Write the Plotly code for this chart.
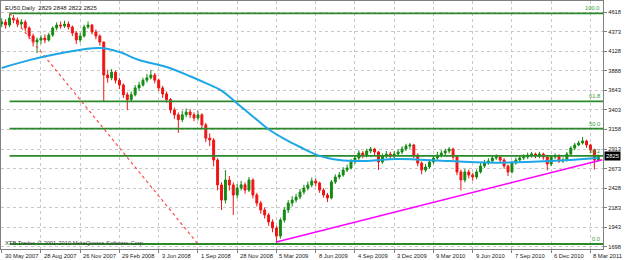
import plotly.graph_objects as go

# ---------------- data ----------------
title_text = "EU50,Daily  2829 2848 2822 2825"
copyright_text = "XTB Trader, \u00a9 2001-2010 MetaQuotes Software Corp."

date_labels = ["30 May 2007", "28 Aug 2007", "26 Nov 2007", "29 Feb 2008", "3 Jun 2008",
               "1 Sep 2008", "28 Nov 2008", "5 Mar 2009", "8 Jun 2009", "4 Sep 2009",
               "3 Dec 2009", "9 Mar 2010", "9 Jun 2010", "7 Sep 2010", "6 Dec 2010",
               "8 Mar 2011"]
date_label_bars = [0, 10, 20, 30, 40, 50, 60, 70, 80, 90, 100, 110, 120, 130, 140, 150]

price_ticks = [1698, 1943, 2183, 2428, 2673, 2913, 3158, 3403, 3643, 3888, 4128, 4373, 4618]
last_price = 2825

first_open = 4470
closes = [4494, 4456, 4543, 4519, 4469, 4494, 4419, 4320, 4245, 4270,
          4295, 4270, 4332, 4419, 4456, 4444, 4469, 4431, 4357, 4270,
          4320, 4431, 4456, 4370, 4320, 4245, 3835, 3800, 3870, 3770,
          3710, 3590, 3530, 3590, 3675, 3710, 3770, 3800, 3835, 3770,
          3675, 3600, 3530, 3400, 3340, 3280, 3340, 3375, 3340, 3300,
          3340, 3215, 3050, 3027, 2778, 2468, 2280, 2530, 2468, 2343,
          2430, 2470, 2405, 2530, 2343, 2243, 2157, 2095, 2008, 1933,
          1833, 2032, 2157, 2243, 2280, 2318, 2380, 2430, 2468, 2517,
          2492, 2405, 2343, 2306, 2505, 2567, 2592, 2654, 2679, 2754,
          2803, 2865, 2840, 2890, 2915, 2878, 2754, 2828, 2853, 2828,
          2853, 2878, 2915, 2952, 2965, 2840, 2740, 2654, 2692, 2754,
          2803, 2840, 2865, 2890, 2915, 2815, 2630, 2530, 2630, 2592,
          2567, 2630, 2704, 2741, 2766, 2803, 2815, 2778, 2704, 2630,
          2741, 2778, 2803, 2815, 2840, 2853, 2828, 2853, 2815, 2728,
          2815, 2828, 2766, 2778, 2853, 2927, 2965, 2990, 3015, 2965,
          2903, 2778, 2825]
highs = [4540, 4530, 4602, 4580, 4550, 4530, 4520, 4440, 4350, 4300,
         4330, 4340, 4360, 4440, 4490, 4500, 4510, 4500, 4450, 4380,
         4360, 4460, 4500, 4470, 4400, 4340, 4250, 3900, 3910, 3890,
         3800, 3730, 3620, 3630, 3710, 3750, 3800, 3850, 3900, 3860,
         3790, 3700, 3630, 3550, 3430, 3370, 3390, 3420, 3410, 3370,
         3390, 3360, 3240, 3110, 3050, 2800, 2500, 2654, 2580, 2500,
         2480, 2520, 2500, 2567, 2550, 2370, 2270, 2190, 2120, 2040,
         1960, 2060, 2190, 2280, 2330, 2360, 2420, 2470, 2510, 2560,
         2550, 2510, 2430, 2370, 2530, 2600, 2630, 2690, 2720, 2790,
         2840, 2900, 2890, 2920, 2940, 2930, 2890, 2860, 2890, 2880,
         2890, 2910, 2950, 2980, 2990, 2980, 2860, 2760, 2730, 2790,
         2840, 2880, 2900, 2920, 2940, 2930, 2830, 2660, 2670, 2660,
         2620, 2660, 2740, 2780, 2800, 2840, 2850, 2840, 2800, 2720,
         2770, 2810, 2830, 2850, 2870, 2880, 2870, 2880, 2870, 2830,
         2840, 2860, 2850, 2810, 2880, 2950, 2990, 3020, 3065, 3030,
         2980, 2920, 2848]
lows = [4430, 4410, 4430, 4480, 4430, 4420, 4380, 4280, 4190, 4108,
        4220, 4230, 4250, 4310, 4390, 4410, 4420, 4400, 4320, 4220,
        4240, 4300, 4410, 4340, 4280, 4200, 3500, 3740, 3770, 3730,
        3660, 3550, 3400, 3500, 3570, 3640, 3690, 3740, 3780, 3730,
        3640, 3550, 3490, 3360, 3290, 3115, 3250, 3310, 3300, 3260,
        3270, 3170, 3000, 2950, 2700, 2400, 2157, 2240, 2400, 2095,
        2300, 2400, 2360, 2380, 2300, 2200, 2110, 2050, 1960, 1880,
        1745, 1800, 2000, 2120, 2200, 2250, 2290, 2350, 2400, 2440,
        2450, 2370, 2310, 2255, 2290, 2480, 2540, 2570, 2630, 2660,
        2730, 2780, 2800, 2810, 2860, 2840, 2654, 2730, 2800, 2790,
        2800, 2830, 2850, 2890, 2920, 2800, 2700, 2600, 2630, 2670,
        2730, 2780, 2810, 2840, 2860, 2780, 2590, 2400, 2500, 2550,
        2520, 2540, 2610, 2680, 2720, 2740, 2780, 2740, 2670, 2580,
        2610, 2720, 2760, 2780, 2790, 2810, 2800, 2800, 2780, 2650,
        2700, 2790, 2740, 2740, 2760, 2830, 2900, 2950, 2970, 2930,
        2870, 2660, 2760]

# 200-day moving average (read at selected bars)
ma_bars = [0, 7, 16, 25, 30, 35, 42, 48, 52, 56, 60, 64, 68, 72, 76, 81, 86, 91, 101, 114, 127, 140, 152]
ma_vals = [3923, 4020, 4115, 4170, 4120, 4021, 3934, 3820, 3735, 3640, 3480, 3320, 3160, 3040,
           2940, 2830, 2778, 2765, 2790, 2765, 2745, 2765, 2803]

# magenta support trendline
trend_bars = [70, 153]
trend_vals = [1760, 2782]

# Fibonacci retracement anchors
fib_bars = [2, 50]
fib_high = 4602
fib_low = 1734
fib_levels = [0.0, 38.2, 50.0, 61.8, 100.0]

# ---------------- figure ----------------
bars = list(range(len(closes)))
opens = [first_open] + closes[:-1]

GREEN = "#138a13"
RED = "#f01414"
FIB = "#2a8a2a"
FONT = "Liberation Sans"

fig = go.Figure()

# fibonacci levels
for lv in fib_levels:
    p = fib_low + (fib_high - fib_low) * lv / 100.0
    fig.add_trace(go.Scatter(x=[fib_bars[0], 200], y=[p, p], mode="lines",
                             line=dict(color=FIB, width=1.8), hoverinfo="skip"))

# fib diagonal
fig.add_trace(go.Scatter(x=fib_bars, y=[fib_high, fib_low], mode="lines",
                         line=dict(color="#ff4a4a", width=1.2, dash="dot"), hoverinfo="skip"))

# moving average
fig.add_trace(go.Scatter(x=ma_bars, y=ma_vals, mode="lines", line_shape="spline",
                         line=dict(color="#1ea6e6", width=2), hoverinfo="skip"))

# candles
fig.add_trace(go.Candlestick(
    x=bars, open=opens, high=highs, low=lows, close=closes,
    increasing=dict(line=dict(color=GREEN, width=1), fillcolor=GREEN),
    decreasing=dict(line=dict(color=RED, width=1), fillcolor=RED),
    whiskerwidth=0, hoverinfo="skip"))

# trendline
fig.add_trace(go.Scatter(x=trend_bars, y=trend_vals, mode="lines",
                         line=dict(color="#ff00ff", width=1.6), hoverinfo="skip"))

annotations = []
for lv in fib_levels:
    p = fib_low + (fib_high - fib_low) * lv / 100.0
    annotations.append(dict(xref="paper", x=1, xanchor="right", xshift=-1,
                            yref="y", y=p, yanchor="bottom", yshift=0,
                            text="%.1f" % lv, showarrow=False,
                            font=dict(family=FONT, size=5.8, color="#3c9a3c")))
for b, t in zip(date_label_bars, date_labels):
    annotations.append(dict(xref="x", x=b, xanchor="left", xshift=1,
                            yref="paper", y=0, yanchor="top", yshift=-2,
                            text=t, showarrow=False,
                            font=dict(family=FONT, size=5.8, color="#202020")))
annotations.append(dict(xref="paper", x=0, xanchor="left", xshift=2,
                        yref="paper", y=1, yanchor="top", yshift=-2,
                        text=title_text, showarrow=False,
                        font=dict(family=FONT, size=6, color="#202020")))
annotations.append(dict(xref="paper", x=0, xanchor="left", xshift=2,
                        yref="y", y=fib_low, yanchor="middle", yshift=1,
                        text=copyright_text, showarrow=False,
                        font=dict(family=FONT, size=5.8, color="#404040")))
annotations.append(dict(xref="paper", x=1, xanchor="left", xshift=1,
                        yref="y", y=last_price, yanchor="middle",
                        text=str(last_price), showarrow=False, bgcolor="#000000",
                        borderpad=1, font=dict(family=FONT, size=5.8, color="#ffffff")))

fig.update_layout(
    width=625, height=260,
    margin=dict(l=1, r=22, t=1, b=11),
    paper_bgcolor="white", plot_bgcolor="white",
    showlegend=False,
    font=dict(family=FONT, size=5.8, color="#202020"),
    annotations=annotations,
    xaxis=dict(range=[-0.18, 153.2], rangeslider=dict(visible=False),
               tickvals=date_label_bars, showticklabels=False,
               ticks="outside", ticklen=3, tickcolor="#808080",
               showgrid=True, gridcolor="#c8c8c8", griddash="dot", gridwidth=1,
               showline=True, linecolor="#808080", linewidth=1, mirror=True,
               zeroline=False, fixedrange=True),
    yaxis=dict(range=[1672, 4755], side="right",
               tickvals=price_ticks, ticktext=[str(v) for v in price_ticks],
               ticks="outside", ticklen=3, tickcolor="#808080",
               tickfont=dict(family=FONT, size=5.8, color="#202020"),
               showgrid=True, gridcolor="#c8c8c8", griddash="dot", gridwidth=1,
               showline=True, linecolor="#808080", linewidth=1, mirror=True,
               zeroline=False, fixedrange=True),
)

fig.write_html("out.html")
